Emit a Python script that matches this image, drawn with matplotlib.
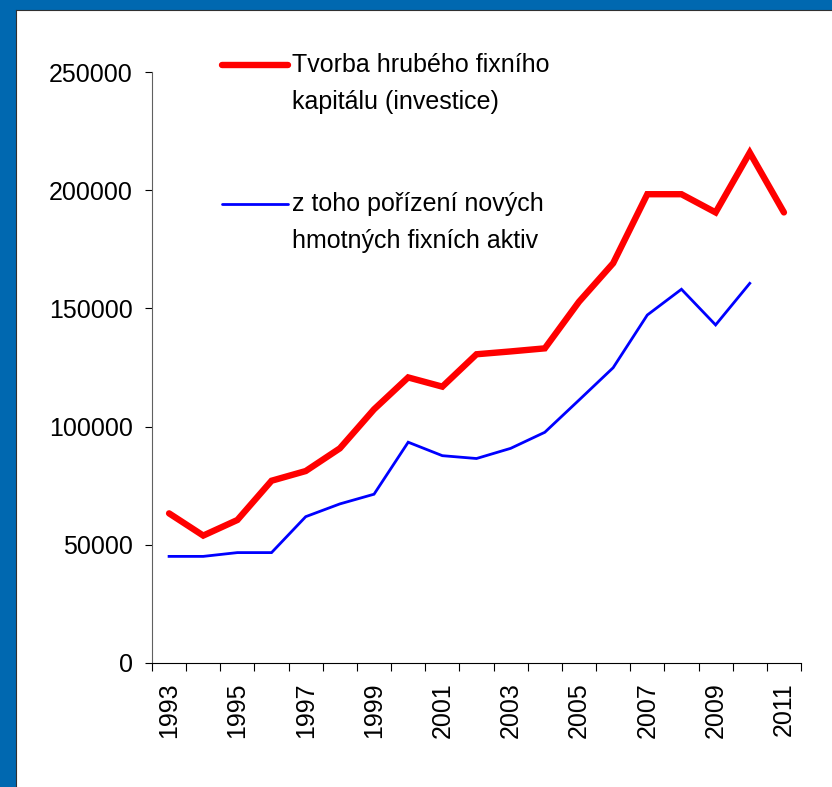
import numpy as np
import matplotlib
matplotlib.use('Agg')
import matplotlib.pyplot as plt
from matplotlib.lines import Line2D
from matplotlib.patches import Rectangle

OUTPUT = 'out.png'

YEARS = list(range(1993, 2012))
INVESTICE = [63300, 53900, 60500, 77100, 81200, 90800, 107300, 120800, 116900,
             130600, 131800, 133100, 152800, 169100, 198300, 198300, 190600,
             215900, 190600]
NOVA_AKTIVA = [45100, 45100, 46700, 46700, 61900, 67300, 71400, 93400, 87700,
               86500, 90800, 97600, 111200, 124900, 147200, 158100, 143000,
               160600, None]
LABEL_RED = 'Tvorba hrubého fixního\nkapitálu (investice)'
LABEL_BLUE = 'z toho pořízení nových\nhmotných fixních aktiv'
Y_TICKS = [0, 50000, 100000, 150000, 200000, 250000]


def main():
    plt.rcParams['font.family'] = ['Liberation Sans', 'DejaVu Sans']
    W, H = 832, 787
    fig = plt.figure(figsize=(W / 100, H / 100), dpi=100)
    fig.patch.set_facecolor('white')

    # blue frame on the left and top
    fig.patches.append(Rectangle((0, 0), 16 / W, 1, transform=fig.transFigure,
                                 facecolor='#0068B0', edgecolor='none', zorder=0))
    fig.patches.append(Rectangle((0, 1 - 10 / H), 1, 10 / H, transform=fig.transFigure,
                                 facecolor='#0068B0', edgecolor='none', zorder=0))
    fig.lines.append(Line2D([16 / W, 16 / W], [0, 1 - 10 / H], transform=fig.transFigure,
                            color='#303030', lw=0.8))
    fig.lines.append(Line2D([16 / W, 1], [1 - 10 / H, 1 - 10 / H], transform=fig.transFigure,
                            color='#303030', lw=0.8))

    ax = fig.add_axes([152 / W, 1 - 663 / H, (801 - 152) / W, (663 - 72) / H])
    x = np.arange(len(YEARS))
    blue = np.array([np.nan if v is None else v for v in NOVA_AKTIVA], dtype=float)
    ax.plot(x, INVESTICE, color='#FF0000', lw=4.6, solid_capstyle='round',
            solid_joinstyle='miter', zorder=3)
    ax.plot(x, blue, color='#0000FF', lw=2.0, solid_joinstyle='miter', zorder=3)

    ax.set_xlim(-0.5, len(YEARS) - 0.5)
    ax.set_ylim(0, 250000)
    for side in ('top', 'right'):
        ax.spines[side].set_visible(False)
    ax.spines['left'].set_color('#606060')
    ax.spines['bottom'].set_color('black')

    ax.set_yticks(Y_TICKS)
    ax.set_yticklabels([str(v) for v in Y_TICKS])
    ax.tick_params(axis='y', direction='out', length=5, width=0.8,
                   labelsize=18, pad=9, colors='black')

    ax.set_xticks(x[::2])
    ax.set_xticklabels([str(y) for y in YEARS[::2]], rotation=90)
    ax.set_xticks(np.arange(-0.5, len(YEARS), 1), minor=True)
    ax.tick_params(axis='x', which='major', length=0, labelsize=18, pad=14)
    ax.tick_params(axis='x', which='minor', direction='out', length=6, width=0.8)

    # legend keys and texts
    for ky, label, color, lw in [(65, LABEL_RED, '#FF0000', 4.6),
                                 (204, LABEL_BLUE, '#0000FF', 2.0)]:
        fig.lines.append(Line2D([222 / W, 288 / W], [1 - ky / H, 1 - ky / H],
                                transform=fig.transFigure, color=color, lw=lw,
                                solid_capstyle='round'))
        fig.text(292 / W, 1 - (ky - 12) / H, label, fontsize=18, va='top',
                 ha='left', linespacing=1.7)

    fig.savefig(OUTPUT, dpi=100)


if __name__ == '__main__':
    main()
